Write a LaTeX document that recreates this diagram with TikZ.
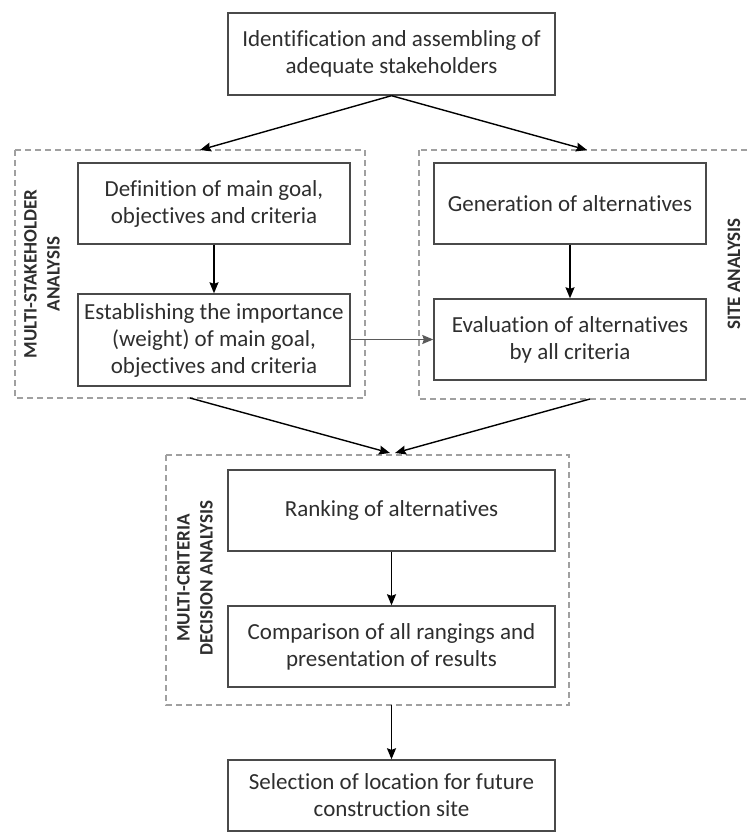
\documentclass[tikz,border=0pt]{standalone}
\usepackage{fontspec}
\setmainfont{Carlito}[Ligatures={NoCommon}]
\usetikzlibrary{arrows.meta}

\definecolor{boxgray}{HTML}{4A4A4A}
\definecolor{framegray}{HTML}{A0A0A0}
\definecolor{textgray}{HTML}{2E2E2E}
\definecolor{linkgray}{HTML}{5A5A5A}

\tikzset{
  stepbox/.style={draw=boxgray, line width=1.4pt, text=textgray, align=center,
    minimum width=272pt, minimum height=81pt, inner sep=0pt,
    font=\fontsize{23}{27}\selectfont},
  widebox/.style={stepbox, minimum width=327pt},
  groupframe/.style={draw=framegray, dash pattern=on 6pt off 4pt, line width=1.1pt},
  sidelabel/.style={rotate=90, text=textgray, align=center,
    font=\bfseries\fontsize{19}{23}\selectfont},
  flow/.style={-{Stealth[length=11pt,width=9pt,inset=1.5pt]}, line width=1.4pt, draw=black},
}

\begin{document}
\begin{tikzpicture}[x=1pt,y=-1pt]
  \useasboundingbox (0,0) rectangle (747,834);

  % dashed groups
  \draw[groupframe] (15,150) rectangle (365,398);
  \draw[groupframe] (419,150) rectangle (749,399);
  \draw[groupframe] (166,455) rectangle (569,705);

  \node[sidelabel] (lblMSA) at (42,274) {MULTI-STAKEHOLDER\\ANALYSIS};
  \node[sidelabel] (lblSA) at (734,274) {SITE ANALYSIS};
  \node[sidelabel] (lblMCDA) at (195,578) {MULTI-CRITERIA\\DECISION ANALYSIS};

  % steps
  \node[widebox, minimum height=82pt] (ident) at (391.5,54) {Identification and assembling of\\adequate stakeholders};
  \node[stepbox] (goal) at (214,203.5) {Definition of main goal,\\objectives and criteria};
  \node[stepbox, minimum height=92pt] (weight) at (214,340) {Establishing the importance\\(weight) of main goal,\\objectives and criteria};
  \node[stepbox] (gen) at (570,203.5) {Generation of alternatives};
  \node[stepbox] (eval) at (570,339.5) {Evaluation of alternatives\\by all criteria};
  \node[widebox] (rank) at (391.5,510.5) {Ranking of alternatives};
  \node[widebox] (comp) at (391.5,646.5) {Comparison of all rangings and\\presentation of results};
  \node[widebox, minimum height=71pt] (select) at (391.5,795.5) {Selection of location for future\\construction site};

  % connector ends on the frames
  \coordinate (msaTop) at (200,150);
  \coordinate (saTop) at (587,150);
  \coordinate (msaBot) at (190,398);
  \coordinate (saBot) at (590,399);
  \coordinate (mcdaInL) at (390,453);
  \coordinate (mcdaInR) at (395,453);
  \coordinate (mcdaBot) at (391.5,705);

  \draw[flow] (ident.south) -- (msaTop);
  \draw[flow] (ident.south) -- (saTop);
  \draw[flow] (goal) -- (weight);
  \draw[flow] (gen) -- (eval);
  \draw[flow, draw=linkgray, line width=1.2pt] (weight.east |- eval.west) -- (eval.west);
  \draw[flow] (msaBot) -- (mcdaInL);
  \draw[flow] (saBot) -- (mcdaInR);
  \draw[flow] (rank) -- (comp);
  \draw[flow] (mcdaBot) -- (select);
\end{tikzpicture}
\end{document}
